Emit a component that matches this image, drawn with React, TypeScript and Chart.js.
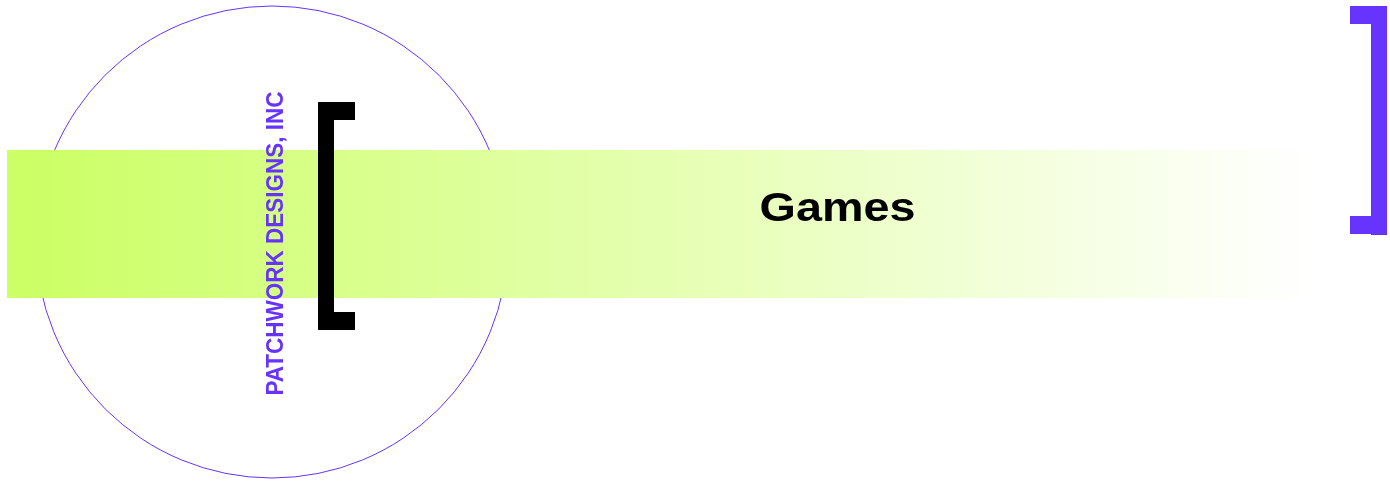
import React, { useEffect, useRef } from "react";
import { Chart, registerables } from "chart.js";

Chart.register(...registerables);

// Slide content
const titleLabels = ["Games"];
const brandLabels = ["PATCHWORK DESIGNS, INC"];
// Geometry in slide units (x: 0..1390, y: 0..483)
const circleCenter = [272, 242];
const circleRadius = [236];
const bandRect = [7, 150, 1310, 298];
const bandFadeStart = [37];
const leftBracketRects = [
  [318, 102, 334, 330],
  [318, 102, 355, 120],
  [318, 312, 355, 330],
];
const rightBracketRects = [
  [1371, 6, 1387, 235],
  [1350, 6, 1387, 24],
  [1350, 216, 1387, 234],
];
const titlePos = [837.5, 220.5];
const brandPos = [283, 243.5];

const W = 1390;
const H = 483;

const slidePlugin = {
  id: "slide",
  beforeDatasetsDraw(chart: any) {
    const ctx = chart.ctx as CanvasRenderingContext2D;
    const xs = chart.scales.x;
    const ys = chart.scales.y;
    const px = (v: number) => xs.getPixelForValue(v);
    const py = (v: number) => ys.getPixelForValue(v);
    ctx.save();
    // circle
    const cx = px(circleCenter[0]);
    const cy = py(circleCenter[1]);
    const r = px(circleCenter[0] + circleRadius[0]) - cx;
    ctx.beginPath();
    ctx.arc(cx, cy, r, 0, Math.PI * 2);
    ctx.strokeStyle = "#6633ff";
    ctx.lineWidth = 1;
    ctx.stroke();

    // band with gradient
    const bx0 = px(bandRect[0]);
    const by0 = py(bandRect[1]);
    const bx1 = px(bandRect[2]);
    const by1 = py(bandRect[3]);
    const g = ctx.createLinearGradient(px(bandFadeStart[0]), 0, bx1, 0);
    g.addColorStop(0, "#ccff66");
    g.addColorStop(1, "#ffffff");
    ctx.fillStyle = g;
    ctx.fillRect(bx0, by0, bx1 - bx0, by1 - by0);

    // brackets
    const drawRects = (rects: number[][], color: string) => {
      ctx.fillStyle = color;
      rects.forEach((rc) => {
        const x0 = px(rc[0]);
        const y0 = py(rc[1]);
        ctx.fillRect(x0, y0, px(rc[2]) - x0, py(rc[3]) - y0);
      });
    };
    drawRects(leftBracketRects, "#000000");
    drawRects(rightBracketRects, "#6633ff");

    // rotated brand text
    ctx.save();
    ctx.translate(px(brandPos[0]), py(brandPos[1]));
    ctx.rotate(-Math.PI / 2);
    ctx.scale(1, 1.1);
    ctx.font = "bold 22.5px 'Liberation Sans', Arial, sans-serif";
    ctx.fillStyle = "#6633ff";
    ctx.textAlign = "center";
    ctx.textBaseline = "alphabetic";
    ctx.fillText(brandLabels[0], 0, 0);
    ctx.restore();

    // title
    ctx.save();
    ctx.translate(px(titlePos[0]), py(titlePos[1]));
    ctx.scale(1.14, 1);
    ctx.font = "bold 41px 'Liberation Sans', Arial, sans-serif";
    ctx.fillStyle = "#000000";
    ctx.textAlign = "center";
    ctx.textBaseline = "alphabetic";
    ctx.fillText(titleLabels[0], 0, 0);
    ctx.restore();

    ctx.restore();
  },
};

export default function App() {
  const ref = useRef<HTMLCanvasElement | null>(null);
  useEffect(() => {
    document.body.style.margin = "0";
    if (!ref.current) return;
    const chart = new Chart(ref.current, {
      type: "scatter",
      data: { datasets: [{ data: [], pointRadius: 0 }] },
      options: {
        animation: false,
        responsive: false,
        events: [],
        layout: { padding: 0 },
        plugins: { legend: { display: false }, tooltip: { enabled: false } },
        scales: {
          x: { type: "linear", min: 0, max: W, display: false },
          y: { type: "linear", min: 0, max: H, reverse: true, display: false },
        },
      },
      plugins: [slidePlugin],
    });
    return () => chart.destroy();
  }, []);
  return (
    <div style={{ width: W, height: H, background: "#ffffff" }}>
      <canvas ref={ref} width={W} height={H} style={{ display: "block", width: W, height: H }} />
    </div>
  );
}
